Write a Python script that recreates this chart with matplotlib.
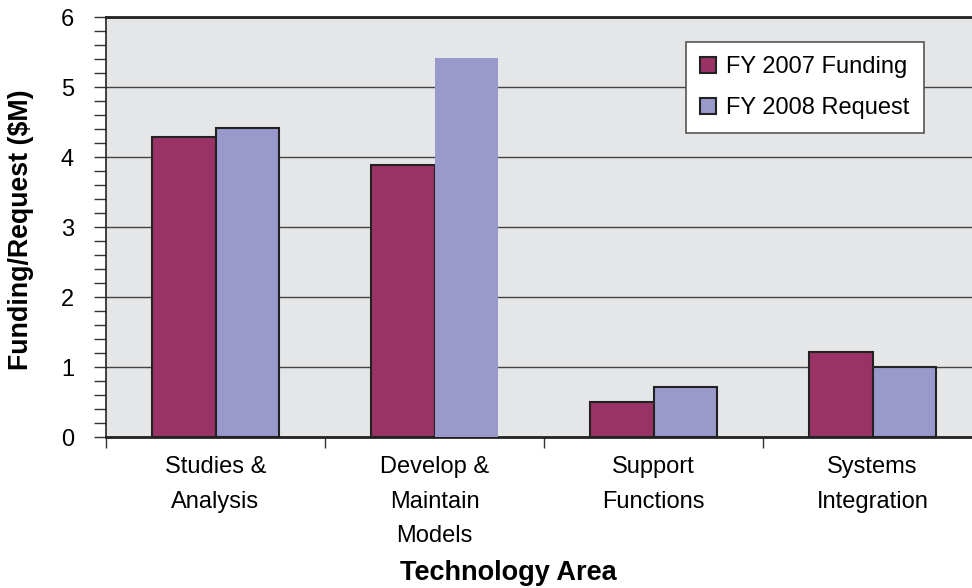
import numpy as np
import matplotlib.pyplot as plt
from matplotlib.ticker import MultipleLocator

plt.rcParams['font.family'] = ['Liberation Sans', 'DejaVu Sans']

categories = ["Studies &\nAnalysis", "Develop &\nMaintain\nModels",
              "Support\nFunctions", "Systems\nIntegration"]
fy2007 = [4.29, 3.89, 0.50, 1.22]
fy2008 = [4.41, 5.42, 0.71, 1.00]

maroon = "#993366"
lavender = "#9999cc"

fig = plt.figure(figsize=(9.72, 5.88), dpi=100)
# axes extends slightly past the right edge, as in the original
ax = fig.add_axes([106 / 972, 151 / 588, 876 / 972, 420 / 588])
ax.set_facecolor("#e5e6e8")

x = np.arange(len(categories))
w = 0.29
b1 = ax.bar(x - w / 2, fy2007, w, color=maroon, edgecolor="#222222",
            linewidth=1.5, label="FY 2007 Funding", zorder=3)
b2 = ax.bar(x + w / 2, fy2008, w, color=lavender, edgecolor="#222222",
            linewidth=1.5, label="FY 2008 Request", zorder=3)
b2[1].set_edgecolor(lavender)
b2[1].set_linewidth(0)

ax.set_xlim(-0.5, len(categories) - 0.5)
ax.set_ylim(0, 6)
ax.yaxis.set_major_locator(MultipleLocator(1))
ax.yaxis.set_minor_locator(MultipleLocator(0.2))
ax.grid(axis="y", which="major", color="#444444", linewidth=1.0, zorder=1)

ax.set_xticks(np.arange(len(categories) + 1) - 0.5)
ax.set_xticklabels([])
ax.set_xticks(x, minor=True)
ax.set_xticklabels(categories, minor=True, fontsize=17, linespacing=1.73,
                   va="top")
ax.tick_params(axis="x", which="major", direction="out", length=8,
               width=1, color="#333333")
ax.tick_params(axis="x", which="minor", length=0, pad=14)
ax.tick_params(axis="y", which="both", direction="out", length=9,
               width=1, color="#333333", labelsize=17, pad=14)

for side in ["top", "left", "bottom"]:
    ax.spines[side].set_color("#222222")
ax.spines["top"].set_linewidth(2)
ax.spines["bottom"].set_linewidth(2)
ax.spines["left"].set_linewidth(1.2)
ax.spines["right"].set_visible(False)

ax.set_ylabel("Funding/Request ($M)", fontsize=19.3, fontweight="bold")
ax.yaxis.set_label_coords(-(106 - 34) / 876, 0.493)
fig.text(508 / 972, 1 - 580 / 588, "Technology Area", fontsize=19.5,
         fontweight="bold", ha="center", va="baseline")

leg = ax.legend(loc="upper left", bbox_to_anchor=(580 / 876, 1 - 25 / 420),
                fontsize=17, frameon=True, fancybox=False, framealpha=1,
                edgecolor="#555555", handlelength=0.65, handleheight=0.65,
                handletextpad=0.45, labelspacing=0.8, borderpad=0.6,
                borderaxespad=0)
leg.get_frame().set_linewidth(1.2)

fig.savefig("out.png", dpi=100)
